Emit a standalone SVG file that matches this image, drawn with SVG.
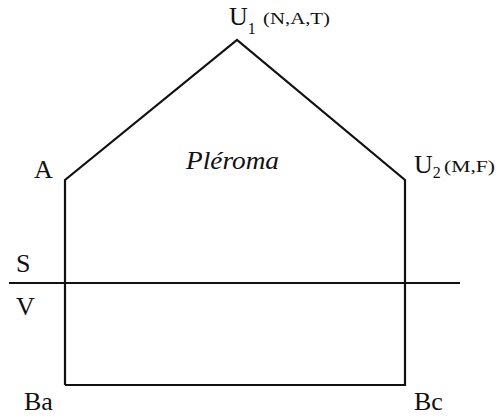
<svg xmlns="http://www.w3.org/2000/svg" width="499" height="419" viewBox="0 0 499 419">
<style>
.ln{fill:none;stroke:#111;stroke-width:2.2;stroke-linejoin:miter}
.t{font-family:"Liberation Serif","DejaVu Serif","Times New Roman",serif;fill:#111;font-size:26px}
.s{font-size:17px}
.sub{font-size:16px}
</style>
<rect width="499" height="419" fill="#fff"/>
<g id="connectors">
<polyline class="ln" points="65,385 65,180 237,40 405,180 405,385 65,385"/>
<line class="ln" x1="9" y1="283" x2="460" y2="283"/>
</g>
<g id="U1"><text class="t" x="229" y="25">U<tspan class="sub" dy="9">1</tspan></text><text class="t s" x="263" y="24" textLength="67" lengthAdjust="spacingAndGlyphs">(N,A,T)</text></g>
<g id="A"><text class="t" x="34" y="178">A</text></g>
<g id="U2"><text class="t" x="414" y="173">U<tspan class="sub" dy="5">2</tspan></text><text class="t s" x="444" y="172" textLength="51" lengthAdjust="spacingAndGlyphs">(M,F)</text></g>
<g id="Pleroma"><text class="t" x="186" y="169" font-style="italic" textLength="93" lengthAdjust="spacingAndGlyphs">Pléroma</text></g>
<g id="S"><text class="t" x="16" y="272">S</text></g>
<g id="V"><text class="t" x="16" y="315">V</text></g>
<g id="Ba"><text class="t" x="24" y="410">Ba</text></g>
<g id="Bc"><text class="t" x="414" y="410">Bc</text></g>
</svg>
